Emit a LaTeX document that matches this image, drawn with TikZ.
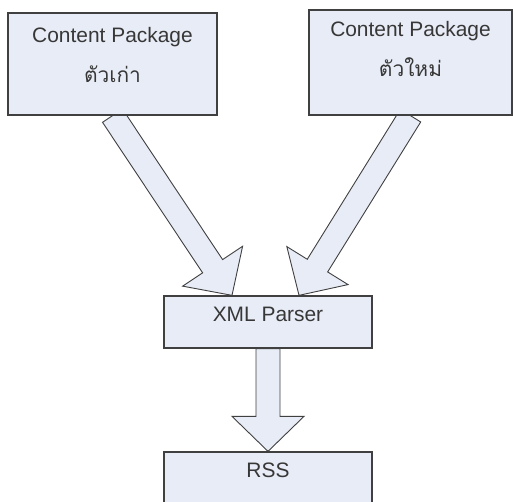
\documentclass[tikz,border=0pt]{standalone}
\usepackage{fontspec}
\setmainfont{Liberation Sans}
\newfontfamily\thaifont[Script=Thai]{Loma}
\usetikzlibrary{calc,positioning,backgrounds}

\definecolor{boxfill}{RGB}{232,236,246}
\definecolor{boxline}{RGB}{64,64,64}
\definecolor{boxtext}{RGB}{55,55,55}

% block arrow from #1 to #2 (tip at #2)
\newcommand{\fatarrow}[2]{%
  \coordinate (fa-s) at (#1);
  \coordinate (fa-e) at (#2);
  \coordinate (fa-h) at ($(fa-e)!35bp!(fa-s)$);
  \filldraw[fat] ($(fa-s)!12bp!90:(fa-e)$) -- ($(fa-h)!12bp!90:(fa-e)$)
    -- ($(fa-h)!36bp!90:(fa-e)$) -- (fa-e) -- ($(fa-h)!36bp!-90:(fa-e)$)
    -- ($(fa-h)!12bp!-90:(fa-e)$) -- ($(fa-s)!12bp!-90:(fa-e)$) -- cycle;
}

\begin{document}
\begin{tikzpicture}[x=1bp, y=-1bp,
				box/.style={rectangle, draw=boxline, fill=boxfill, line width=1.3bp, inner sep=0},
				txt/.style={inner sep=0, text=boxtext, align=center, font=\fontsize{21}{40}\selectfont},
				fat/.style={draw=boxline, fill=boxfill, line width=0.9bp, line join=miter}]
				
				\useasboundingbox (0,0) rectangle (513,502);
				\clip (0,0) rectangle (513,502);
				
				\node [box, minimum width=209bp, minimum height=102bp] (old) at (112.5,64) {};
				\node [box, minimum width=203bp, minimum height=105bp] (new) at (410.5,62.5) {};
				\node [box, minimum width=208bp, minimum height=52bp] (parser) at (268,322) {};
				\node [box, minimum width=208bp, minimum height=80bp] (rss) at (268,492) {};
				
				\node [txt, below=15bp of old.north] (oldtxt) {Content Package\\{\thaifont ตัวเก่า}};
				\node [txt, below=12bp of new.north] (newtxt) {Content Package\\{\thaifont ตัวใหม่}};
				\node [txt, below=12bp of parser.north] (parsertxt) {XML Parser};
				\node [txt, below=11bp of rss.north] (rsstxt) {RSS};
				
				\coordinate (oldin) at ($(parser.north)+(-36,0)$);
				\coordinate (newin) at ($(parser.north)+(31,0)$);
				\begin{scope}[on background layer]
				\fatarrow{old.south}{oldin}
				\fatarrow{new.south}{newin}
				\fatarrow{parser.south}{rss.north}
				\end{scope}
				\end{tikzpicture}
\end{document}
